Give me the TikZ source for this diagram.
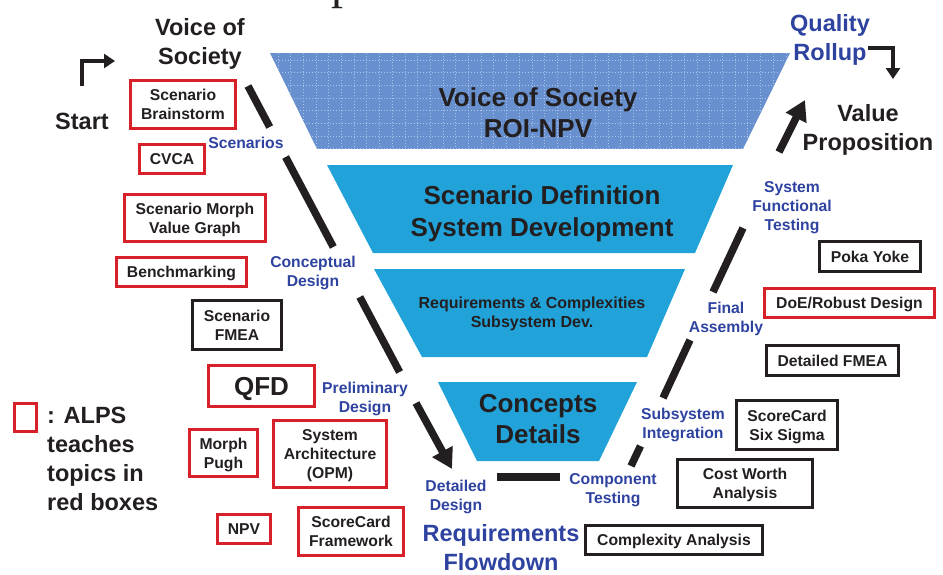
\documentclass[tikz,border=0pt]{standalone}
\usepackage{fontspec}
\setmainfont{Liberation Sans}
\newfontfamily\titleserif{Liberation Serif}
\usetikzlibrary{arrows.meta}

\definecolor{alpsred}{RGB}{216,32,40}
\definecolor{alpsblue}{RGB}{46,66,160}
\definecolor{ink}{RGB}{35,31,32}
\definecolor{funnelcyan}{RGB}{33,163,217}
\definecolor{funneldots}{RGB}{104,144,206}
\definecolor{funnelgrid}{RGB}{170,196,234}

\newcommand{\fBox}{\fontsize{15.7pt}{18.8pt}\selectfont\bfseries}
\newcommand{\fSmall}{\fontsize{16pt}{19pt}\selectfont\bfseries}
\newcommand{\fMid}{\fontsize{23.5pt}{29pt}\selectfont\bfseries}
\newcommand{\fBig}{\fontsize{26pt}{31.5pt}\selectfont\bfseries}

\tikzset{
  topic/.style={draw=alpsred, line width=3pt, text=ink, font=\fBox, align=center, inner sep=0pt, text depth=0pt},
  tool/.style={topic, draw=ink},
  stage/.style={text=alpsblue, font=\fBox, align=center, inner sep=0pt, text depth=0pt},
  milestone/.style={text=ink, font=\fMid, align=center, inner sep=0pt, text depth=0pt},
  layer/.style={text=ink, font=\fBig, align=center, inner sep=0pt, text depth=0pt},
  flow/.style={line width=7.5pt, ink},
  bigtip/.style={-{Triangle[length=20pt,width=22pt]}},
  turn/.style={line width=4pt, ink, -{Triangle[length=11pt,width=14pt]}},
}

\begin{document}
\begin{tikzpicture}[x=1pt, y=-1pt]
\useasboundingbox (0,0) rectangle (943,574);

\node[anchor=base west, inner sep=0pt, text=ink, font=\titleserif\fontsize{48pt}{48pt}\selectfont] (titlefrag) at (331,-2) {p};

% funnel
\begin{scope}
  \clip (270,53) -- (790,53) -- (743,149) -- (317,149) -- cycle;
  \fill[funneldots] (270,53) rectangle (790,149);
  \foreach \gx in {278,290.7,...,790}
    \draw[funnelgrid, line width=1pt, dotted] (\gx,53) -- (\gx,149);
  \foreach \gy in {60,72.7,...,149}
    \draw[funnelgrid, line width=1pt, dotted] (270,\gy) -- (790,\gy);
\end{scope}
\fill[funnelcyan] (327,165) -- (733,165) -- (695,253) -- (373,253) -- cycle;
\fill[funnelcyan] (374,269) -- (685,269) -- (647,357) -- (422,357) -- cycle;
\fill[funnelcyan] (438,382) -- (637,382) -- (599,461) -- (477,461) -- cycle;

\node[layer] (roi) at (538,112.5) {Voice of Society\\ROI-NPV};
\node[layer] (sysdev) at (542,211) {Scenario Definition\\System Development};
\node[layer, font=\fSmall] (subdev) at (532,312.5) {Requirements \& Complexities\\Subsystem Dev.};
\node[layer] (details) at (538,419) {Concepts\\Details};

% outer labels
\node[milestone] (voice) at (200,41) {Voice of\\Society};
\node[milestone] (start) at (82,121) {Start};
\node[milestone, text=alpsblue] (rollup) at (830,37) {Quality\\Rollup};
\node[milestone] (valprop) at (868,127.5) {Value\\Proposition};
\node[milestone, text=alpsblue] (flowdown) at (501,547.5) {Requirements\\Flowdown};

% stages along the V
\node[stage] (scen) at (246,143) {Scenarios};
\node[stage] (concd) at (313,271) {Conceptual\\Design};
\node[stage] (prelim) at (365,397.5) {Preliminary\\Design};
\node[stage] (detd) at (456,495) {Detailed\\Design};
\node[stage] (comptest) at (613,488.5) {Component\\Testing};
\node[stage] (subint) at (683,423.5) {Subsystem\\Integration};
\node[stage] (finasm) at (726,317.5) {Final\\Assembly};
\node[stage] (sysfun) at (792,206) {System\\Functional\\Testing};

% tools
\node[topic, minimum width=105pt, minimum height=48pt] (brain) at (183,104.5) {Scenario\\Brainstorm};
\node[topic, minimum width=65pt, minimum height=29pt] (cvca) at (172,159) {CVCA};
\node[topic, minimum width=141pt, minimum height=47pt] (morphgraph) at (195,218) {Scenario Morph\\Value Graph};
\node[topic, minimum width=130pt, minimum height=29pt] (bench) at (181.5,272) {Benchmarking};
\node[tool, minimum width=89pt, minimum height=49pt] (sfmea) at (237,325) {Scenario\\FMEA};
\node[topic, font=\fBig, minimum width=106pt, minimum height=41pt] (qfd) at (261.5,386) {QFD};
\node[topic, minimum width=68pt, minimum height=47pt] (pugh) at (223.5,453) {Morph\\Pugh};
\node[topic, minimum width=113pt, minimum height=67pt] (sysarch) at (330,454) {System\\Architecture\\(OPM)};
\node[topic, minimum width=53pt, minimum height=29pt] (npv) at (244,529) {NPV};
\node[topic, minimum width=105pt, minimum height=48pt] (scframe) at (351,531.5) {ScoreCard\\Framework};
\node[tool, minimum width=177pt, minimum height=29pt] (complex) at (674,540) {Complexity Analysis};
\node[tool, minimum width=135pt, minimum height=48pt] (costworth) at (745,483.5) {Cost Worth\\Analysis};
\node[tool, minimum width=101pt, minimum height=49pt] (sixsigma) at (787,425) {ScoreCard\\Six Sigma};
\node[tool, minimum width=132pt, minimum height=30pt] (dfmea) at (832.5,360.5) {Detailed FMEA};
\node[topic, minimum width=170pt, minimum height=29pt] (doe) at (849.5,303) {DoE/Robust Design};
\node[tool, minimum width=101pt, minimum height=30pt] (poka) at (870,256.5) {Poka Yoke};

% legend
\node[topic, minimum width=22pt, minimum height=28pt] (legbox) at (25.5,417.5) {};
\node[milestone, anchor=west, align=left] (legend) at (47,458.5) {: ALPS\\teaches\\topics in\\red boxes};

% V path
\coordinate (l1a) at (248,86);
\coordinate (l1b) at (269.7,127);
\coordinate (l2a) at (285.6,157);
\coordinate (l2b) at (333.3,247);
\coordinate (l3a) at (359.8,297);
\coordinate (l3b) at (399.6,372);
\coordinate (l4a) at (416,403);
\coordinate (l4b) at (452,469);
\coordinate (h1) at (497,477);
\coordinate (h2) at (560,477);
\coordinate (r1a) at (631,466);
\coordinate (r1b) at (640.5,446);
\coordinate (r2a) at (663,398);
\coordinate (r2b) at (690,340);
\coordinate (r3a) at (713,292);
\coordinate (r3b) at (743,228);
\coordinate (r4a) at (779,152);
\coordinate (r4b) at (805,100);
\draw[flow] (l1a) -- (l1b);
\draw[flow] (l2a) -- (l2b);
\draw[flow] (l3a) -- (l3b);
\draw[flow, bigtip] (l4a) -- (l4b);
\draw[flow] (h1) -- (h2);
\draw[flow] (r1a) -- (r1b);
\draw[flow] (r2a) -- (r2b);
\draw[flow] (r3a) -- (r3b);
\draw[flow, bigtip] (r4a) -- (r4b);

% start / rollup turns
\coordinate (st0) at (82,86);
\coordinate (st1) at (115,61);
\coordinate (qr0) at (868,48);
\coordinate (qr1) at (893,79);
\draw[turn] (st0) |- (st1);
\draw[turn] (qr0) -| (qr1);
\end{tikzpicture}
\end{document}
